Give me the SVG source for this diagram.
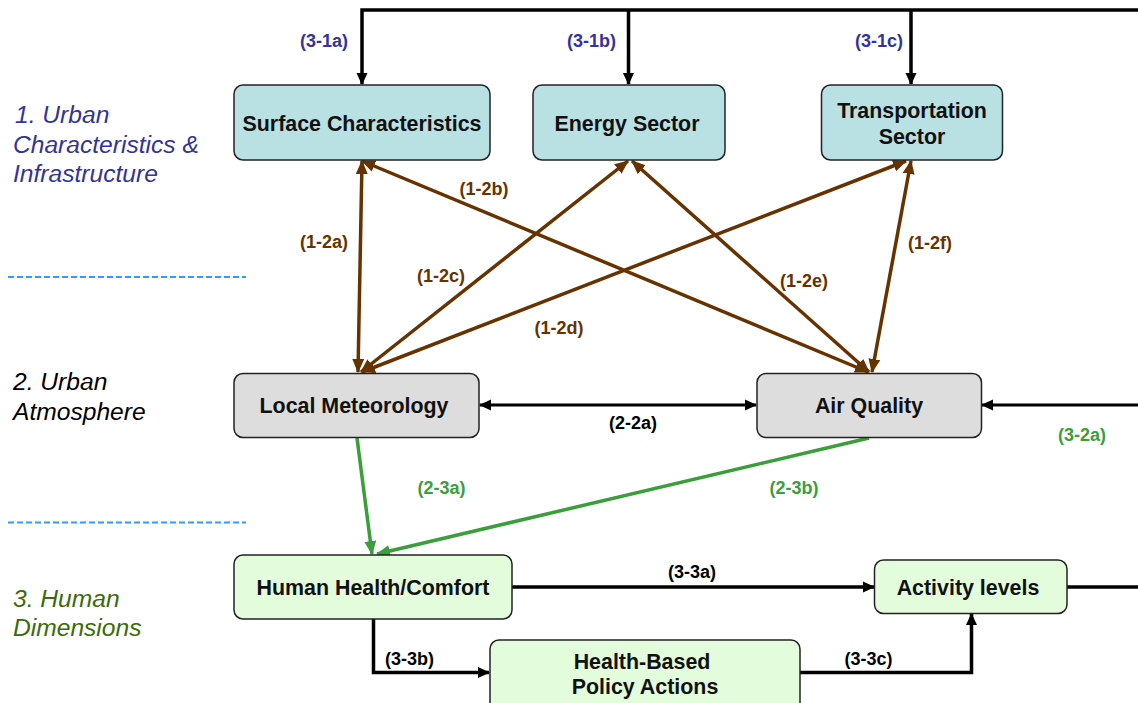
<svg xmlns="http://www.w3.org/2000/svg" width="1138" height="703" viewBox="0 0 1138 703">
<defs>
<style>
.box{stroke:#222;stroke-width:1.5}
.teal{fill:#b9e0e3}
.gray{fill:#dddddd}
.lg{fill:#e3fcdc}
.bt{font-family:"Liberation Sans",Arial,sans-serif;font-weight:bold;font-size:21.4px;fill:#111;text-anchor:middle}
.lb{font-family:"Liberation Sans",Arial,sans-serif;font-weight:bold;font-size:18px;text-anchor:middle}
.side{font-family:"Liberation Sans",Arial,sans-serif;font-style:italic;font-size:24.6px}
.k{stroke:#000;stroke-width:3.5;fill:none}
.br{stroke:#663300;stroke-width:3.5;fill:none}
.gr{stroke:#3a9e3a;stroke-width:3.5;fill:none}
.dash{stroke:#3399ff;stroke-width:2;stroke-dasharray:6,3}
</style>
<marker id="ak" markerUnits="userSpaceOnUse" viewBox="0 0 12 12" markerWidth="12" markerHeight="12" refX="11" refY="6" orient="auto-start-reverse"><path d="M0,0.5 L12,6 L0,11.5 Z" fill="#000"/></marker>
<marker id="ab" markerUnits="userSpaceOnUse" viewBox="0 0 14 13" markerWidth="14" markerHeight="13" refX="13" refY="6.5" orient="auto-start-reverse"><path d="M0,0.5 L14,6.5 L0,12.5 Z" fill="#663300"/></marker>
<marker id="ag" markerUnits="userSpaceOnUse" viewBox="0 0 14 13" markerWidth="14" markerHeight="13" refX="13" refY="6.5" orient="auto-start-reverse"><path d="M0,0.5 L14,6.5 L0,12.5 Z" fill="#3a9e3a"/></marker>
</defs>
<rect width="1138" height="703" fill="#fff"/>

<g id="side-labels">
<text class="side" fill="#333399"><tspan x="15" y="123">1. Urban</tspan><tspan x="13" y="152.5">Characteristics &amp;</tspan><tspan x="13" y="182">Infrastructure</tspan></text>
<text class="side" fill="#000"><tspan x="13" y="390">2. Urban</tspan><tspan x="13" y="420">Atmosphere</tspan></text>
<text class="side" fill="#3a6b0a"><tspan x="13" y="607">3. Human</tspan><tspan x="13" y="636">Dimensions</tspan></text>
<line class="dash" x1="8" y1="277" x2="246" y2="277"/>
<line class="dash" x1="8" y1="522.5" x2="246" y2="522.5"/>
</g>

<g id="connectors">
<path class="k" d="M1138,10 H362 V84" marker-end="url(#ak)"/>
<path class="k" d="M628.5,10 V84" marker-end="url(#ak)"/>
<path class="k" d="M911,10 V84" marker-end="url(#ak)"/>
<path class="br" d="M362,161 L358,372" marker-start="url(#ab)" marker-end="url(#ab)"/>
<path class="br" d="M362,161 L868,372" marker-start="url(#ab)" marker-end="url(#ab)"/>
<path class="br" d="M628,161 L361,372" marker-start="url(#ab)" marker-end="url(#ab)"/>
<path class="br" d="M906,161 L362,372" marker-start="url(#ab)" marker-end="url(#ab)"/>
<path class="br" d="M632,161 L869,372" marker-start="url(#ab)" marker-end="url(#ab)"/>
<path class="br" d="M911,161 L872,372" marker-start="url(#ab)" marker-end="url(#ab)"/>
<path class="k" style="stroke-width:3" d="M480,405 H756" marker-start="url(#ak)" marker-end="url(#ak)"/>
<path class="k" style="stroke-width:3" d="M1138,405 H982" marker-end="url(#ak)"/>
<path class="gr" d="M357,438 L372,554" marker-end="url(#ag)"/>
<path class="gr" d="M869,438 L377,554" marker-end="url(#ag)"/>
<path class="k" d="M512,587 H874" marker-end="url(#ak)"/>
<path class="k" d="M1067,587 H1138"/>
<path class="k" d="M373.5,619 V672.5 H489" marker-end="url(#ak)"/>
<path class="k" d="M800,672.5 H971.5 V614" marker-end="url(#ak)"/>
</g>

<g id="connector-labels">
<text class="lb" fill="#333399" x="324" y="46.5">(3-1a)</text>
<text class="lb" fill="#333399" x="591.5" y="46.5">(3-1b)</text>
<text class="lb" fill="#333399" x="879" y="46.5">(3-1c)</text>
<text class="lb" fill="#663300" x="324" y="248">(1-2a)</text>
<text class="lb" fill="#663300" x="484" y="195">(1-2b)</text>
<text class="lb" fill="#663300" x="441" y="281.5">(1-2c)</text>
<text class="lb" fill="#663300" x="559" y="334">(1-2d)</text>
<text class="lb" fill="#663300" x="804" y="287">(1-2e)</text>
<text class="lb" fill="#663300" x="930" y="249">(1-2f)</text>
<text class="lb" fill="#000" x="633" y="428.5">(2-2a)</text>
<text class="lb" fill="#3a9e3a" x="1082" y="440.5">(3-2a)</text>
<text class="lb" fill="#3a9e3a" x="441.5" y="494">(2-3a)</text>
<text class="lb" fill="#3a9e3a" x="794" y="494">(2-3b)</text>
<text class="lb" fill="#000" x="692" y="577.5">(3-3a)</text>
<text class="lb" fill="#000" x="409.5" y="665">(3-3b)</text>
<text class="lb" fill="#000" x="868.5" y="665">(3-3c)</text>
</g>

<g id="surface-characteristics">
<rect class="box teal" x="234" y="85" width="256" height="75" rx="9"/>
<text class="bt" x="362" y="131">Surface Characteristics</text>
</g>
<g id="energy-sector">
<rect class="box teal" x="533" y="85" width="192" height="75" rx="9"/>
<text class="bt" x="627" y="131">Energy Sector</text>
</g>
<g id="transportation-sector">
<rect class="box teal" x="821.5" y="85" width="181" height="75" rx="9"/>
<text class="bt" x="912" y="118">Transportation</text>
<text class="bt" x="912" y="143.5">Sector</text>
</g>
<g id="local-meteorology">
<rect class="box gray" x="234" y="373.5" width="245" height="64" rx="9"/>
<text class="bt" x="354" y="413">Local Meteorology</text>
</g>
<g id="air-quality">
<rect class="box gray" x="757" y="373.5" width="224.5" height="64" rx="9"/>
<text class="bt" x="869" y="413">Air Quality</text>
</g>
<g id="human-health">
<rect class="box lg" x="234" y="555" width="278" height="64" rx="9"/>
<text class="bt" x="373" y="594.5">Human Health/Comfort</text>
</g>
<g id="activity-levels">
<rect class="box lg" x="874.5" y="560" width="192.5" height="53.5" rx="9"/>
<text class="bt" x="968" y="594.5">Activity levels</text>
</g>
<g id="policy-actions">
<rect class="box lg" x="490" y="640" width="310" height="80" rx="9"/>
<text class="bt" x="642" y="668.5">Health-Based</text>
<text class="bt" x="645" y="693.5">Policy Actions</text>
</g>
</svg>
